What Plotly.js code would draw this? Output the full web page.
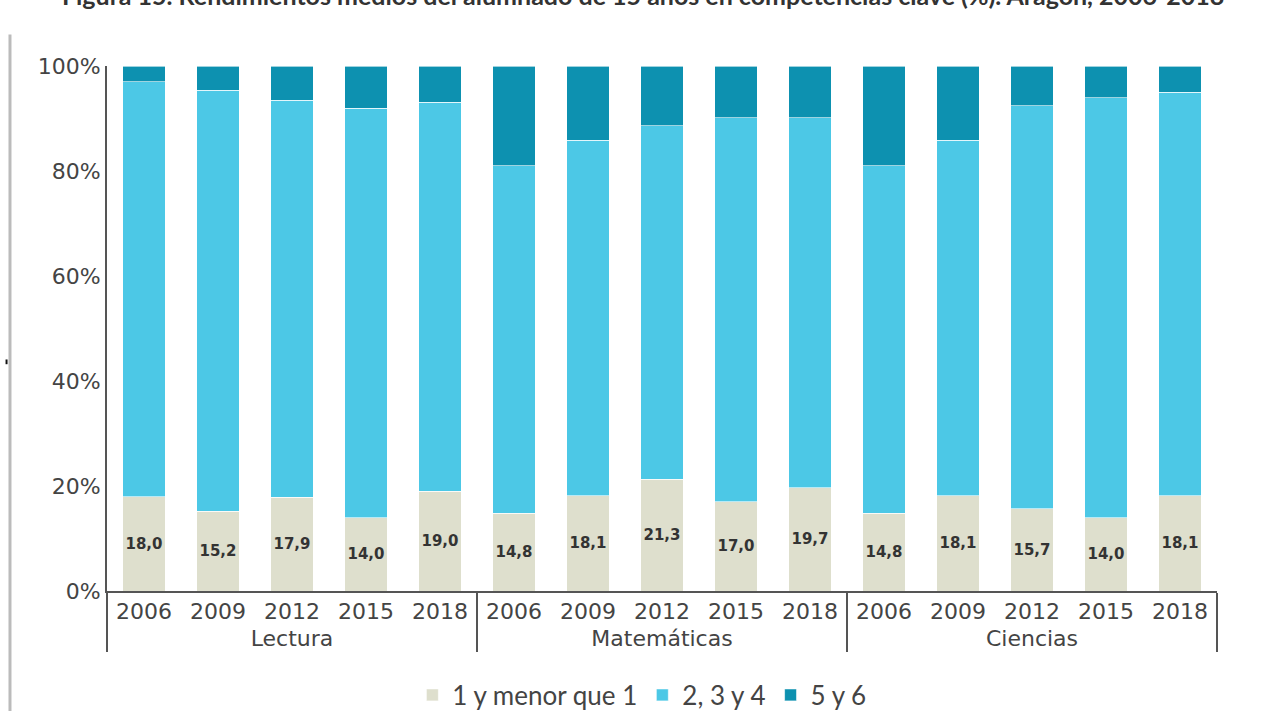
<!DOCTYPE html>
<html>
<head>
<meta charset="utf-8">
<script src="https://cdn.plot.ly/plotly-3.0.1.min.js"></script>
<style>
html,body{margin:0;padding:0;background:#fff;}
#chart{width:1266px;height:711px;}
</style>
</head>
<body>
<div id="chart"></div>
<script>
const competencias = ['Lectura', 'Matemáticas', 'Ciencias'];
const years = ['2006', '2009', '2012', '2015', '2018'];
const seriesNames = ['1 y menor que 1', '2, 3 y 4', '5 y 6'];
const nivel1 = [18.0, 15.2, 17.9, 14.0, 19.0, 14.8, 18.1, 21.3, 17.0, 19.7, 14.8, 18.1, 15.7, 14.0, 18.1];
const nivel234 = [79.0, 80.2, 75.6, 78.0, 74.1, 66.2, 67.8, 67.3, 73.1, 70.4, 66.2, 67.8, 76.7, 80.0, 76.9];
const nivel56 = [3.0, 4.6, 6.5, 8.0, 6.9, 19.0, 14.1, 11.4, 9.9, 9.9, 19.0, 14.1, 7.6, 6.0, 5.0];
const yTicks = [0, 20, 40, 60, 80, 100];
const yTickLabels = ['0%', '20%', '40%', '60%', '80%', '100%'];

const groupAxis = [];
const yearAxis = [];
competencias.forEach(c => years.forEach(y => { groupAxis.push(c); yearAxis.push(y); }));
const xcat = [groupAxis, yearAxis];

const colors = ['#dedfcd', '#4cc8e6', '#0d91b0'];
const lineCol = 'rgba(255,255,255,0.6)';

const traces = [
  {
    type: 'bar', name: seriesNames[0], x: xcat, y: nivel1,
    marker: {color: colors[0], line: {color: lineCol, width: 1}},
    texttemplate: '%{y:.1f}', textposition: 'inside', insidetextanchor: 'middle',
    textangle: 0, constraintext: 'none',
    textfont: {family: 'DejaVu Sans', size: 15, color: '#333333', weight: 'bold'},
    hoverinfo: 'skip'
  },
  {
    type: 'bar', name: seriesNames[1], x: xcat, y: nivel234,
    marker: {color: colors[1], line: {color: lineCol, width: 1}},
    textposition: 'none', hoverinfo: 'skip'
  },
  {
    type: 'bar', name: seriesNames[2], x: xcat, y: nivel56,
    marker: {color: colors[2], line: {color: lineCol, width: 1}},
    textposition: 'none', hoverinfo: 'skip'
  }
];

const layout = {
  width: 1266, height: 711,
  barmode: 'stack', bargap: 0.43,
  separators: ',.',
  paper_bgcolor: '#ffffff', plot_bgcolor: '#ffffff',
  margin: {l: 107, r: 49, t: 66, b: 120, autoexpand: false},
  title: {
    text: '<b>Figura 15. Rendimientos medios del alumnado de 15 años en competencias clave (%). Aragón, 2006-2018</b>',
    font: {family: 'Lato', size: 25, color: '#333333'},
    xref: 'container', yref: 'container', x: 0.508, xanchor: 'center', y: 0.993, yanchor: 'bottom'
  },
  font: {family: 'DejaVu Sans', color: '#444444'},
  xaxis: {
    type: 'multicategory', automargin: false,
    showline: true, linecolor: '#555555', linewidth: 2,
    showgrid: false, ticks: '',
    tickfont: {family: 'DejaVu Sans', size: 22, color: '#444444'},
    showdividers: true, dividercolor: '#555555', dividerwidth: 2
  },
  yaxis: {
    range: [0, 100], tickvals: yTicks, ticktext: yTickLabels, automargin: false,
    showline: true, linecolor: '#555555', linewidth: 2,
    showgrid: false, zeroline: false, ticks: '',
    tickfont: {family: 'DejaVu Sans', size: 22, color: '#444444'}
  },
  legend: {
    orientation: 'h', xref: 'container', yref: 'container',
    x: 0.507, xanchor: 'center', y: 0.0225, yanchor: 'middle',
    font: {family: 'Lato', size: 26, color: '#444444'},
    traceorder: 'normal', itemclick: false
  },
  shapes: [
    {type: 'line', xref: 'paper', yref: 'paper', x0: -0.0874, x1: -0.0874, y0: 1.06, y1: -0.23,
     line: {color: '#bbbbbb', width: 3}},
    {type: 'line', xref: 'paper', yref: 'paper', x0: -0.0905, x1: -0.0905, y0: 0.441, y1: 0.432,
     line: {color: '#111111', width: 2}}
  ],
  showlegend: true
};

Plotly.newPlot('chart', traces, layout, {displayModeBar: false, staticPlot: true});
</script>
</body>
</html>
